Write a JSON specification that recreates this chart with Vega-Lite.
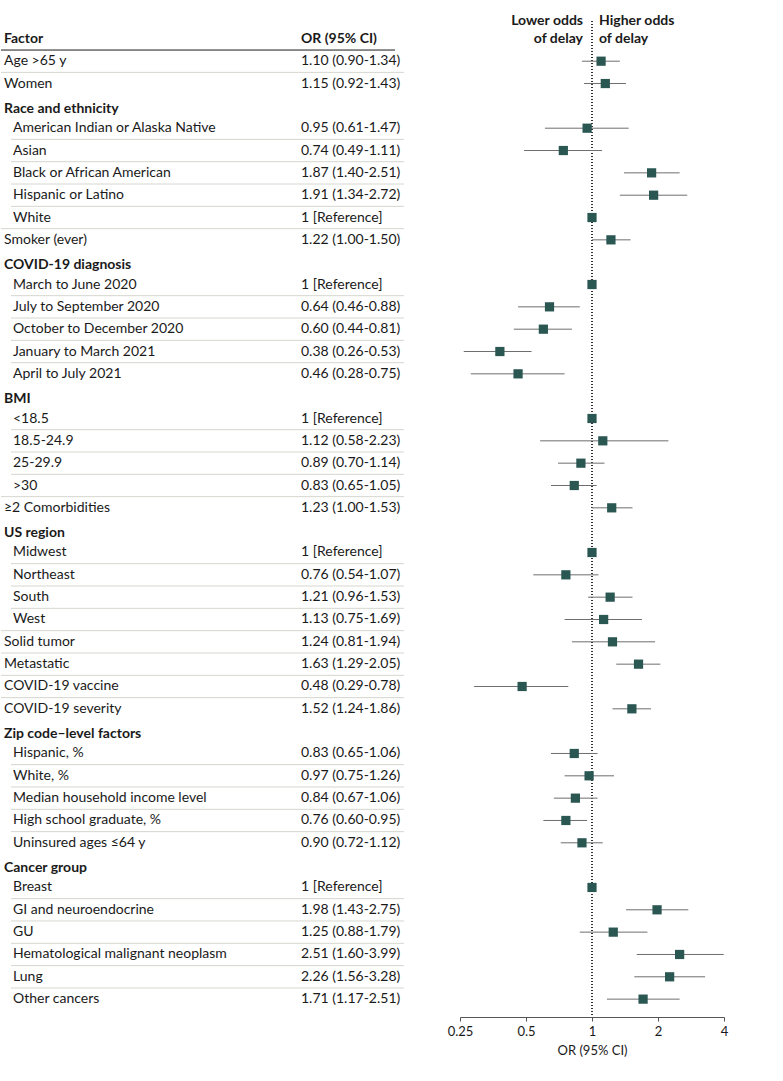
{
  "$schema": "https://vega.github.io/schema/vega-lite/v6.json",
  "padding": {"left": 0, "top": 13, "right": 5, "bottom": 5},
  "bounds": "flush",
  "spacing": 56,
  "config": {"view": {"stroke": null}, "font": "Lato", "text": {"font": "Lato"}},
  "data": {"values": [
    {"row": 0, "kind": "colhead", "label": "Factor", "or_text": "OR (95% CI)", "or": null, "lo": null, "hi": null},
    {"row": 1, "kind": "item", "label": "Age >65 y", "or_text": "1.10 (0.90-1.34)", "or": 1.10, "lo": 0.90, "hi": 1.34},
    {"row": 2, "kind": "item", "label": "Women", "or_text": "1.15 (0.92-1.43)", "or": 1.15, "lo": 0.92, "hi": 1.43},
    {"row": 3, "kind": "head", "label": "Race and ethnicity", "or_text": "", "or": null, "lo": null, "hi": null},
    {"row": 4, "kind": "sub", "label": "American Indian or Alaska Native", "or_text": "0.95 (0.61-1.47)", "or": 0.95, "lo": 0.61, "hi": 1.47},
    {"row": 5, "kind": "sub", "label": "Asian", "or_text": "0.74 (0.49-1.11)", "or": 0.74, "lo": 0.49, "hi": 1.11},
    {"row": 6, "kind": "sub", "label": "Black or African American", "or_text": "1.87 (1.40-2.51)", "or": 1.87, "lo": 1.40, "hi": 2.51},
    {"row": 7, "kind": "sub", "label": "Hispanic or Latino", "or_text": "1.91 (1.34-2.72)", "or": 1.91, "lo": 1.34, "hi": 2.72},
    {"row": 8, "kind": "sub", "label": "White", "or_text": "1 [Reference]", "or": 1, "lo": null, "hi": null},
    {"row": 9, "kind": "item", "label": "Smoker (ever)", "or_text": "1.22 (1.00-1.50)", "or": 1.22, "lo": 1.00, "hi": 1.50},
    {"row": 10, "kind": "head", "label": "COVID-19 diagnosis", "or_text": "", "or": null, "lo": null, "hi": null},
    {"row": 11, "kind": "sub", "label": "March to June 2020", "or_text": "1 [Reference]", "or": 1, "lo": null, "hi": null},
    {"row": 12, "kind": "sub", "label": "July to September 2020", "or_text": "0.64 (0.46-0.88)", "or": 0.64, "lo": 0.46, "hi": 0.88},
    {"row": 13, "kind": "sub", "label": "October to December 2020", "or_text": "0.60 (0.44-0.81)", "or": 0.60, "lo": 0.44, "hi": 0.81},
    {"row": 14, "kind": "sub", "label": "January to March 2021", "or_text": "0.38 (0.26-0.53)", "or": 0.38, "lo": 0.26, "hi": 0.53},
    {"row": 15, "kind": "sub", "label": "April to July 2021", "or_text": "0.46 (0.28-0.75)", "or": 0.46, "lo": 0.28, "hi": 0.75},
    {"row": 16, "kind": "head", "label": "BMI", "or_text": "", "or": null, "lo": null, "hi": null},
    {"row": 17, "kind": "sub", "label": "<18.5", "or_text": "1 [Reference]", "or": 1, "lo": null, "hi": null},
    {"row": 18, "kind": "sub", "label": "18.5-24.9", "or_text": "1.12 (0.58-2.23)", "or": 1.12, "lo": 0.58, "hi": 2.23},
    {"row": 19, "kind": "sub", "label": "25-29.9", "or_text": "0.89 (0.70-1.14)", "or": 0.89, "lo": 0.70, "hi": 1.14},
    {"row": 20, "kind": "sub", "label": ">30", "or_text": "0.83 (0.65-1.05)", "or": 0.83, "lo": 0.65, "hi": 1.05},
    {"row": 21, "kind": "item", "label": "≥2 Comorbidities", "or_text": "1.23 (1.00-1.53)", "or": 1.23, "lo": 1.00, "hi": 1.53},
    {"row": 22, "kind": "head", "label": "US region", "or_text": "", "or": null, "lo": null, "hi": null},
    {"row": 23, "kind": "sub", "label": "Midwest", "or_text": "1 [Reference]", "or": 1, "lo": null, "hi": null},
    {"row": 24, "kind": "sub", "label": "Northeast", "or_text": "0.76 (0.54-1.07)", "or": 0.76, "lo": 0.54, "hi": 1.07},
    {"row": 25, "kind": "sub", "label": "South", "or_text": "1.21 (0.96-1.53)", "or": 1.21, "lo": 0.96, "hi": 1.53},
    {"row": 26, "kind": "sub", "label": "West", "or_text": "1.13 (0.75-1.69)", "or": 1.13, "lo": 0.75, "hi": 1.69},
    {"row": 27, "kind": "item", "label": "Solid tumor", "or_text": "1.24 (0.81-1.94)", "or": 1.24, "lo": 0.81, "hi": 1.94},
    {"row": 28, "kind": "item", "label": "Metastatic", "or_text": "1.63 (1.29-2.05)", "or": 1.63, "lo": 1.29, "hi": 2.05},
    {"row": 29, "kind": "item", "label": "COVID-19 vaccine", "or_text": "0.48 (0.29-0.78)", "or": 0.48, "lo": 0.29, "hi": 0.78},
    {"row": 30, "kind": "item", "label": "COVID-19 severity", "or_text": "1.52 (1.24-1.86)", "or": 1.52, "lo": 1.24, "hi": 1.86},
    {"row": 31, "kind": "head", "label": "Zip code–level factors", "or_text": "", "or": null, "lo": null, "hi": null},
    {"row": 32, "kind": "sub", "label": "Hispanic, %", "or_text": "0.83 (0.65-1.06)", "or": 0.83, "lo": 0.65, "hi": 1.06},
    {"row": 33, "kind": "sub", "label": "White, %", "or_text": "0.97 (0.75-1.26)", "or": 0.97, "lo": 0.75, "hi": 1.26},
    {"row": 34, "kind": "sub", "label": "Median household income level", "or_text": "0.84 (0.67-1.06)", "or": 0.84, "lo": 0.67, "hi": 1.06},
    {"row": 35, "kind": "sub", "label": "High school graduate, %", "or_text": "0.76 (0.60-0.95)", "or": 0.76, "lo": 0.60, "hi": 0.95},
    {"row": 36, "kind": "sub", "label": "Uninsured ages ≤64 y", "or_text": "0.90 (0.72-1.12)", "or": 0.90, "lo": 0.72, "hi": 1.12},
    {"row": 37, "kind": "head", "label": "Cancer group", "or_text": "", "or": null, "lo": null, "hi": null},
    {"row": 38, "kind": "sub", "label": "Breast", "or_text": "1 [Reference]", "or": 1, "lo": null, "hi": null},
    {"row": 39, "kind": "sub", "label": "GI and neuroendocrine", "or_text": "1.98 (1.43-2.75)", "or": 1.98, "lo": 1.43, "hi": 2.75},
    {"row": 40, "kind": "sub", "label": "GU", "or_text": "1.25 (0.88-1.79)", "or": 1.25, "lo": 0.88, "hi": 1.79},
    {"row": 41, "kind": "sub", "label": "Hematological malignant neoplasm", "or_text": "2.51 (1.60-3.99)", "or": 2.51, "lo": 1.60, "hi": 3.99},
    {"row": 42, "kind": "sub", "label": "Lung", "or_text": "2.26 (1.56-3.28)", "or": 2.26, "lo": 1.56, "hi": 3.28},
    {"row": 43, "kind": "sub", "label": "Other cancers", "or_text": "1.71 (1.17-2.51)", "or": 1.71, "lo": 1.17, "hi": 2.51}
  ]},
  "hconcat": [
    {
      "width": 403,
      "height": 996,
      "encoding": {
        "y": {"field": "row", "type": "ordinal", "axis": null,
              "scale": {"type": "band", "domain": [0,1,2,3,4,5,6,7,8,9,10,11,12,13,14,15,16,17,18,19,20,21,22,23,24,25,26,27,28,29,30,31,32,33,34,35,36,37,38,39,40,41,42,43], "paddingInner": 0, "paddingOuter": 0.3}}
      },
      "layer": [
        {
          "transform": [{"filter": "datum.kind == 'colhead'"}],
          "mark": {"type": "rule", "color": "#1a1a1a", "strokeWidth": 1, "x": 0, "x2": 394},
          "encoding": {"y": {"field": "row", "type": "ordinal", "bandPosition": 1}}
        },
        {
          "transform": [
            {"window": [{"op": "lag", "field": "kind", "as": "prevkind"}], "sort": [{"field": "row"}]},
            {"filter": "datum.kind == 'item' && datum.prevkind != 'head' && datum.prevkind != 'colhead'"}
          ],
          "mark": {"type": "rule", "color": "#d6d6cf", "strokeWidth": 1},
          "encoding": {"y": {"field": "row", "type": "ordinal", "bandPosition": 0}}
        },
        {
          "transform": [
            {"window": [{"op": "lag", "field": "kind", "as": "prevkind"}], "sort": [{"field": "row"}]},
            {"filter": "datum.kind == 'sub' && datum.prevkind != 'head' && datum.prevkind != 'colhead'"}
          ],
          "mark": {"type": "rule", "color": "#d6d6cf", "strokeWidth": 1, "x": 10, "x2": 403},
          "encoding": {"y": {"field": "row", "type": "ordinal", "bandPosition": 0}}
        },
        {
          "transform": [{"filter": "datum.kind == 'colhead'"}],
          "mark": {"type": "text", "align": "left", "baseline": "middle", "fontSize": 14, "fontWeight": "bold", "color": "#1a1a1a"},
          "encoding": {
            "x": {"datum": "Factor", "type": "nominal", "axis": null, "scale": {"type": "point", "domain": ["Factor", "OR (95% CI)"], "range": [3, 300], "padding": 0}},
            "text": {"field": "label"}
          }
        },
        {
          "transform": [{"filter": "datum.kind == 'colhead'"}],
          "mark": {"type": "text", "align": "left", "baseline": "middle", "fontSize": 14, "fontWeight": "bold", "color": "#1a1a1a"},
          "encoding": {
            "x": {"datum": "OR (95% CI)", "type": "nominal", "axis": null, "scale": {"type": "point", "domain": ["Factor", "OR (95% CI)"], "range": [3, 300], "padding": 0}},
            "text": {"field": "or_text"}
          }
        },
        {
          "transform": [{"filter": "datum.kind == 'head'"}],
          "mark": {"type": "text", "align": "left", "baseline": "middle", "fontSize": 14, "fontWeight": "bold", "color": "#1a1a1a", "dy": 3},
          "encoding": {
            "x": {"datum": "Factor", "type": "nominal", "axis": null, "scale": {"type": "point", "domain": ["Factor", "OR (95% CI)"], "range": [3, 300], "padding": 0}},
            "text": {"field": "label"}
          }
        },
        {
          "transform": [{"filter": "datum.kind == 'item'"}],
          "mark": {"type": "text", "align": "left", "baseline": "middle", "fontSize": 14, "color": "#1a1a1a"},
          "encoding": {
            "x": {"datum": "Factor", "type": "nominal", "axis": null, "scale": {"type": "point", "domain": ["Factor", "OR (95% CI)"], "range": [3, 300], "padding": 0}},
            "text": {"field": "label"}
          }
        },
        {
          "transform": [{"filter": "datum.kind == 'sub'"}],
          "mark": {"type": "text", "align": "left", "baseline": "middle", "fontSize": 14, "color": "#1a1a1a", "dx": 9},
          "encoding": {
            "x": {"datum": "Factor", "type": "nominal", "axis": null, "scale": {"type": "point", "domain": ["Factor", "OR (95% CI)"], "range": [3, 300], "padding": 0}},
            "text": {"field": "label"}
          }
        },
        {
          "transform": [{"filter": "datum.kind == 'item' || datum.kind == 'sub'"}],
          "mark": {"type": "text", "align": "left", "baseline": "middle", "fontSize": 14, "color": "#1a1a1a"},
          "encoding": {
            "x": {"datum": "OR (95% CI)", "type": "nominal", "axis": null, "scale": {"type": "point", "domain": ["Factor", "OR (95% CI)"], "range": [3, 300], "padding": 0}},
            "text": {"field": "or_text"}
          }
        }
      ]
    },
    {
      "width": 264,
      "height": 996,
      "encoding": {
        "y": {"field": "row", "type": "ordinal", "axis": null,
              "scale": {"type": "band", "domain": [0,1,2,3,4,5,6,7,8,9,10,11,12,13,14,15,16,17,18,19,20,21,22,23,24,25,26,27,28,29,30,31,32,33,34,35,36,37,38,39,40,41,42,43], "paddingInner": 0, "paddingOuter": 0.3}}
      },
      "layer": [
        {
          "mark": {"type": "rule", "color": "#333333", "strokeWidth": 1, "strokeDash": [1, 2]},
          "encoding": {
            "x": {"datum": 1, "type": "quantitative",
                  "scale": {"type": "log", "domain": [0.25, 4], "nice": false},
                  "axis": {"values": [0.25, 0.5, 1, 2, 4], "format": "~g", "title": "OR (95% CI)", "grid": false,
                           "tickSize": 4, "labelFontSize": 13, "titleFontSize": 13, "titleFontWeight": "normal",
                           "domainColor": "#555555", "tickColor": "#555555", "labelColor": "#1a1a1a", "titleColor": "#1a1a1a",
                           "labelPadding": 4, "titlePadding": 6, "labelFlush": false, "labelFont": "Lato", "titleFont": "Lato"}},
            "y": null
          }
        },
        {
          "transform": [{"filter": "datum.lo != null"}],
          "mark": {"type": "rule", "color": "#6e6e6e", "strokeWidth": 1},
          "encoding": {
            "x": {"field": "lo", "type": "quantitative"},
            "x2": {"field": "hi"}
          }
        },
        {
          "transform": [{"filter": "datum.or != null"}],
          "mark": {"type": "point", "shape": "square", "filled": true, "size": 85, "color": "#2b5753", "opacity": 1},
          "encoding": {
            "x": {"field": "or", "type": "quantitative"}
          }
        },
        {
          "data": {"values": [{"row": 0, "ref": 1, "txt": ["Lower odds", "of delay"]}]},
          "mark": {"type": "text", "align": "right", "baseline": "middle", "fontSize": 14, "fontWeight": "bold", "color": "#1a1a1a", "dx": -9, "dy": -18, "lineHeight": 18},
          "encoding": {
            "x": {"field": "ref", "type": "quantitative"},
            "text": {"field": "txt"}
          }
        },
        {
          "data": {"values": [{"row": 0, "ref": 1, "txt": ["Higher odds", "of delay"]}]},
          "mark": {"type": "text", "align": "left", "baseline": "middle", "fontSize": 14, "fontWeight": "bold", "color": "#1a1a1a", "dx": 7, "dy": -18, "lineHeight": 18},
          "encoding": {
            "x": {"field": "ref", "type": "quantitative"},
            "text": {"field": "txt"}
          }
        }
      ]
    }
  ]
}
